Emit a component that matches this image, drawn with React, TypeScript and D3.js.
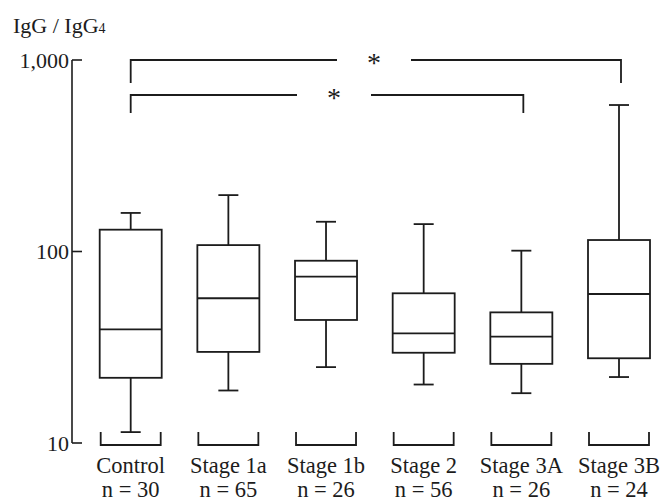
import React from 'react';
import * as d3 from 'd3';

const categories = ['Control', 'Stage 1a', 'Stage 1b', 'Stage 2', 'Stage 3A', 'Stage 3B'];
const nLabels = ['n = 30', 'n = 65', 'n = 26', 'n = 56', 'n = 26', 'n = 24'];
const whiskerLow = [11.4, 18.8, 24.9, 20.2, 18.2, 22.1];
const q1 = [21.9, 29.9, 43.9, 29.6, 25.9, 27.7];
const median = [39.2, 57, 73.9, 37.4, 35.9, 60];
const q3 = [130, 108, 89.5, 60.5, 48.1, 114.8];
const whiskerHigh = [159, 197, 143, 139, 101, 582];
const yTicks = [10, 100, 1000];
const yTickLabels = ['10', '100', '1,000'];
const comparisons = [
  { from: 'Control', to: 'Stage 3B', label: '*' },
  { from: 'Control', to: 'Stage 3A', label: '*' },
];

const W = 663;
const H = 501;
const INK = '#1c1c1c';
const FONT = 'Liberation Serif, Times New Roman, serif';

export default function App() {
  const y = d3.scaleLog().domain([10, 1000]).range([443, 60]);
  const x = d3.scalePoint<string>().domain(categories).range([130.7, 619]);
  const boxW = 62;
  const capW = 20;
  const axisX = 72;
  const bracketY = [60, 95];
  const bracketDrop = [23, 18];
  const asteriskX = [374, 334];
  const gapHalf = [37, 37];

  return (
    <svg width={W} height={H} style={{ position: 'absolute', left: 0, top: 0, background: '#fff' }}>
      <text x={13} y={33} style={{ fontFamily: FONT }} fontSize={22} fill={INK}>
        IgG / IgG<tspan fontSize={14}>4</tspan>
      </text>
      <line x1={axisX} x2={axisX} y1={y(1000)} y2={y(10)} stroke={INK} strokeWidth={1.6} />
      {yTicks.map((t, i) => (
        <g key={t}>
          <line x1={axisX} x2={axisX + 10} y1={y(t)} y2={y(t)} stroke={INK} strokeWidth={1.6} />
          <text x={69} y={y(t)} dy="0.35em" textAnchor="end" style={{ fontFamily: FONT }} fontSize={22} fill={INK}>
            {yTickLabels[i]}
          </text>
        </g>
      ))}
      {categories.map((c, i) => {
        const cx = x(c)!;
        return (
          <g key={c} stroke={INK} strokeWidth={1.8} fill="none">
            <line x1={cx} x2={cx} y1={y(whiskerHigh[i])} y2={y(q3[i])} />
            <line x1={cx} x2={cx} y1={y(q1[i])} y2={y(whiskerLow[i])} />
            <line x1={cx - capW / 2} x2={cx + capW / 2} y1={y(whiskerHigh[i])} y2={y(whiskerHigh[i])} />
            <line x1={cx - capW / 2} x2={cx + capW / 2} y1={y(whiskerLow[i])} y2={y(whiskerLow[i])} />
            <rect x={cx - boxW / 2} y={y(q3[i])} width={boxW} height={y(q1[i]) - y(q3[i])} />
            <line x1={cx - boxW / 2} x2={cx + boxW / 2} y1={y(median[i])} y2={y(median[i])} />
            <path d={`M${cx - 30},${432} V${445} H${cx + 30} V${432}`} />
          </g>
        );
      })}
      {categories.map((c, i) => (
        <g key={c + 'l'}>
          <text x={x(c)!} y={473} textAnchor="middle" style={{ fontFamily: FONT }} fontSize={22.5} fill={INK}>
            {c}
          </text>
          <text x={x(c)!} y={497} textAnchor="middle" style={{ fontFamily: FONT }} fontSize={22.5} fill={INK}>
            {nLabels[i]}
          </text>
        </g>
      ))}
      {comparisons.map((cmp, i) => {
        const x1 = x(cmp.from)!;
        const x2 = x(cmp.to)! + 2;
        const by = bracketY[i];
        const ax = asteriskX[i];
        return (
          <g key={i} stroke={INK} strokeWidth={1.8} fill="none">
            <path d={`M${x1},${by + bracketDrop[i]} V${by} H${ax - gapHalf[i]}`} />
            <path d={`M${ax + gapHalf[i]},${by} H${x2} V${by + bracketDrop[i]}`} />
            <text x={ax} y={by + 12} textAnchor="middle" style={{ fontFamily: FONT }} fontSize={28} fill={INK} stroke="none">
              {cmp.label}
            </text>
          </g>
        );
      })}
    </svg>
  );
}
